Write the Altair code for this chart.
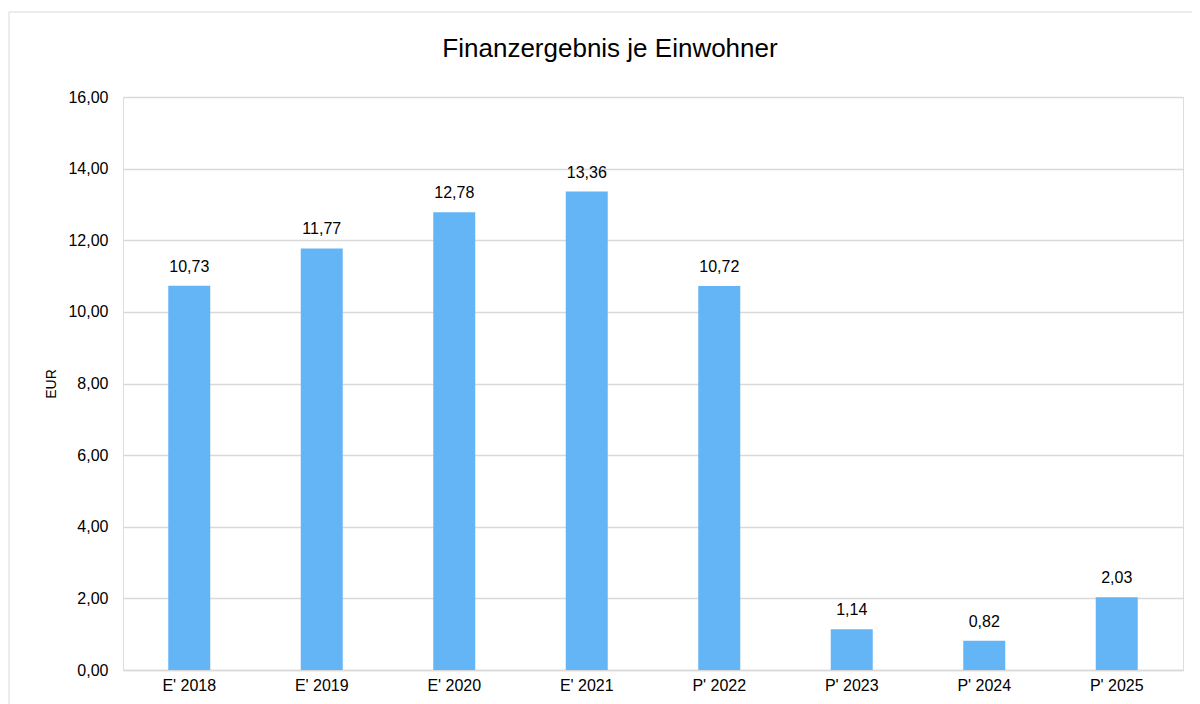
import altair as alt
import pandas as pd

categories = ["E' 2018", "E' 2019", "E' 2020", "E' 2021", "P' 2022", "P' 2023", "P' 2024", "P' 2025"]
values = [10.73, 11.77, 12.78, 13.36, 10.72, 1.14, 0.82, 2.03]
title_text = ["Finanzergebnis je Einwohner"]

df = pd.DataFrame({"cat": categories, "val": values})

FONT = "Liberation Sans"

base = alt.Chart(df)

frame = alt.Chart(pd.DataFrame({"a": [0]})).mark_rect(
    fill=None, stroke="#d9d9d9", strokeWidth=1
).encode(
    x=alt.value(-114), x2=alt.value(1200), y=alt.value(-85), y2=alt.value(720)
)

title = alt.Chart(pd.DataFrame({"t": title_text})).mark_text(
    font=FONT, fontSize=26, color="#000", baseline="alphabetic", align="center"
).encode(
    x=alt.value(487), y=alt.value(-40), text="t:N"
)

bars = base.mark_bar(color="#64B5F6", size=42).encode(
    x=alt.X("cat:N", sort=categories, title=None,
            axis=alt.Axis(labelAngle=0, labelFont=FONT, labelFontSize=16, labelColor="#000",
                          labelPadding=7, ticks=False, domainColor="#d9d9d9", domainWidth=1.5)),
    y=alt.Y("val:Q", title="EUR", scale=alt.Scale(domain=[0, 16]),
            axis=alt.Axis(values=[0, 2, 4, 6, 8, 10, 12, 14, 16],
                          labelExpr="replace(format(datum.value, '.2f'), '.', ',')",
                          labelFont=FONT, labelFontSize=16, labelColor="#000", labelPadding=15,
                          ticks=False, domain=False, gridColor="#d9d9d9", gridWidth=1.5,
                          titleFont=FONT, titleFontSize=14, titleFontWeight="normal",
                          titleColor="#000", titleX=-72, titleBaseline="middle")),
)

labels = base.transform_calculate(
    lab="replace(format(datum.val, '.2f'), '.', ',')"
).mark_text(font=FONT, fontSize=16, color="#000", baseline="alphabetic", dy=-14).encode(
    x=alt.X("cat:N", sort=categories),
    y="val:Q",
    text="lab:N",
)

chart = alt.layer(frame, title, bars, labels).properties(
    width=1060, height=573,
    padding={"left": 115, "top": 89, "right": 9, "bottom": 34},
    autosize=alt.AutoSizeParams(type="none"),
).configure_view(stroke=None).configure(background="white")

chart.save("out.html", embed_options={"renderer": "svg", "actions": False})
